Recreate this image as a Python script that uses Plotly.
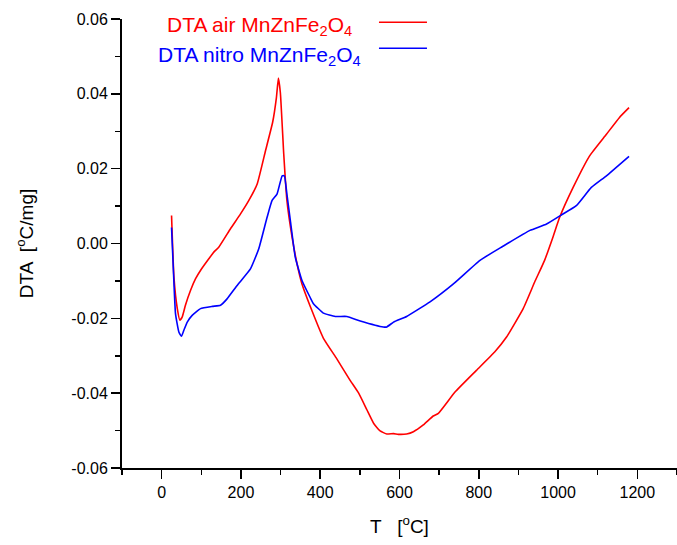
import plotly.graph_objects as go

# ---- data ----
air_T = [25, 31, 39.5, 46, 52, 60, 73, 85.6, 98, 119, 131.6, 144, 174, 199, 220, 241, 262, 280,
         289.5, 294.5, 299.5, 308, 316, 329, 341.5, 354, 379, 408.5, 440, 475, 497, 518, 535, 551,
         568, 585, 597, 618, 635, 660, 685, 698, 740, 794, 840, 870, 912, 941, 966, 987, 1004,
         1038, 1080, 1122, 1155, 1179]
air_DTA = [0.0075, -0.009, -0.0174, -0.0205, -0.0196, -0.0165, -0.0125, -0.0094, -0.0072, -0.0041,
           -0.0023, -0.001, 0.004, 0.0079, 0.0115, 0.0159, 0.0248, 0.0324,
           0.039, 0.0442, 0.0403, 0.0239, 0.0115, 0.0017, -0.0054, -0.0108, -0.0179, -0.0254,
           -0.0305, -0.0365, -0.040, -0.0445, -0.0481, -0.0501,
           -0.0509, -0.0508, -0.051, -0.0509, -0.0503, -0.0485, -0.0461, -0.0454, -0.0397, -0.0339,
           -0.029, -0.025, -0.0174, -0.0103, -0.0045, 0.0017, 0.007,
           0.015, 0.0235, 0.0292, 0.0337, 0.0363]

nitro_T = [25, 30, 35, 43.6, 50, 56, 64.6, 77, 98, 127.5, 148.5, 165, 190.5, 224, 245, 266, 278.6,
           291, 304, 309.6, 316, 324.7, 337, 354, 375, 383, 408, 438, 467, 501, 559, 568, 585,
           618, 677, 736, 803, 860, 929, 971, 1008, 1046, 1084, 1122, 1179]
nitro_DTA = [0.0043, -0.008, -0.0188, -0.0237, -0.0248, -0.0232, -0.021, -0.0192, -0.0174, -0.0168,
             -0.0165, -0.0148, -0.0112, -0.0068, -0.0014, 0.007, 0.0115,
             0.0132, 0.0181, 0.0181, 0.0132, 0.0061, -0.0036, -0.0099, -0.0145, -0.0161, -0.0186,
             -0.0195, -0.0195, -0.0207, -0.0223, -0.0223, -0.021,
             -0.0195, -0.0156, -0.0108, -0.0045, -0.0008, 0.0035, 0.0052, 0.0076, 0.0101, 0.015,
             0.0181, 0.0233]

y_tick_vals = [-0.06, -0.04, -0.02, 0.00, 0.02, 0.04, 0.06]
y_tick_text = ["-0.06", "-0.04", "-0.02", "0.00", "0.02", "0.04", "0.06"]
x_tick_vals = [0, 200, 400, 600, 800, 1000, 1200]

series_names = ["DTA air MnZnFe<sub>2</sub>O<sub>4</sub>",
                "DTA nitro MnZnFe<sub>2</sub>O<sub>4</sub>"]
colors = ["#ff0000", "#0000ff"]

FONT = "Liberation Sans, Arial, sans-serif"

fig = go.Figure()
fig.add_trace(go.Scatter(x=air_T, y=air_DTA, mode="lines", name=series_names[0],
                         line=dict(color=colors[0], width=1.6, shape="spline", smoothing=0.4)))
fig.add_trace(go.Scatter(x=nitro_T, y=nitro_DTA, mode="lines", name=series_names[1],
                         line=dict(color=colors[1], width=1.6, shape="spline", smoothing=0.4)))

# custom legend (text left, line sample right)
legend_y = [0.985, 0.917]
line_y = [0.9927, 0.9347]
for i in range(2):
    fig.add_annotation(x=0.247, y=legend_y[i], xref="paper", yref="paper",
                       text=series_names[i], showarrow=False, xanchor="center", yanchor="middle",
                       font=dict(family=FONT, size=21, color=colors[i]))
    fig.add_shape(type="line", xref="paper", yref="paper", x0=0.463, x1=0.5495,
                  y0=line_y[i], y1=line_y[i], line=dict(color=colors[i], width=1.6))

axis_common = dict(showline=True, linecolor="black", linewidth=2, ticks="outside",
                   tickcolor="black", tickwidth=1.5, ticklen=9, showgrid=False, zeroline=False,
                   tickfont=dict(family=FONT, size=16, color="black"), mirror=False)

fig.update_xaxes(range=[-100, 1300], tickvals=x_tick_vals,
                 minor=dict(ticks="outside", ticklen=5, tickwidth=1.5, tickcolor="black", dtick=100, tick0=0),
                 title=dict(text="T   [<sup>o</sup>C]", font=dict(family=FONT, size=19, color="black"), standoff=19),
                 **axis_common)
fig.update_yaxes(range=[-0.06, 0.06], tickvals=y_tick_vals, ticktext=y_tick_text,
                 minor=dict(ticks="outside", ticklen=5, tickwidth=1.5, tickcolor="black", dtick=0.01, tick0=0),
                 title=dict(text="DTA  [<sup>o</sup>C/mg]", font=dict(family=FONT, size=19, color="black"), standoff=33),
                 **axis_common)

fig.update_layout(width=677, height=545, plot_bgcolor="white", paper_bgcolor="white",
                  showlegend=False, hovermode=False,
                  margin=dict(l=122, r=0, t=19, b=77, autoexpand=False))

fig.write_html("out.html", config={"displayModeBar": False, "staticPlot": True},
               post_script="document.body.style.margin='0';document.body.style.overflow='hidden';")
